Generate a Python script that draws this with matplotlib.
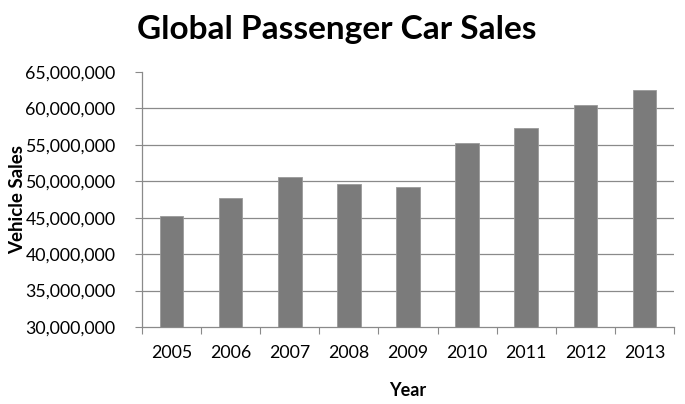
import numpy as np
import matplotlib
matplotlib.use("Agg")
import matplotlib.pyplot as plt
from matplotlib.ticker import FuncFormatter

years = ["2005", "2006", "2007", "2008", "2009", "2010", "2011", "2012", "2013"]
sales = [45.2e6, 47.7e6, 50.6e6, 49.6e6, 49.2e6, 55.2e6, 57.3e6, 60.5e6, 62.5e6]
y_ticks = [30e6, 35e6, 40e6, 45e6, 50e6, 55e6, 60e6, 65e6]

plt.rcParams["font.family"] = ["Lato", "DejaVu Sans"]
grid_gray = "#8a8a8a"

fig = plt.figure(figsize=(6.85, 4.04), dpi=100)
ax = fig.add_axes([0.2073, 0.1906, 0.7767, 0.6312])

x = np.arange(len(years))
ax.bar(x, sales, width=0.4, color="#7b7b7b", edgecolor="#9a9a9a", linewidth=0.6, zorder=3)

ax.set_ylim(30e6, 65e6)
ax.set_xlim(-0.5, len(years) - 0.5)
ax.set_yticks(y_ticks)
ax.yaxis.set_major_formatter(FuncFormatter(lambda v, p: f"{int(v):,}"))
ax.tick_params(axis="y", length=5, width=0.8, color=grid_gray, pad=14, labelsize=12.8)

# category boundaries carry the tick marks, labels sit under the bars
ax.set_xticks(np.arange(len(years) + 1) - 0.5)
ax.set_xticklabels([])
ax.tick_params(axis="x", which="major", length=5, width=0.8, color=grid_gray)
ax.set_xticks(x, years, minor=True)
ax.tick_params(axis="x", which="minor", length=0, pad=13, labelsize=12.8)

for v in y_ticks[1:-1]:
    ax.axhline(v, color=grid_gray, linewidth=0.9, zorder=1)

for s in ["top", "right"]:
    ax.spines[s].set_visible(False)
for s in ["left", "bottom"]:
    ax.spines[s].set_color(grid_gray)
    ax.spines[s].set_linewidth(0.9)

fig.text(17.5 / 685, 1 - 199 / 404, "Vehicle Sales", rotation=90, ha="center", va="center",
         fontsize=13.5, fontweight="bold")
fig.text(408 / 685, 1 - 391 / 404, "Year", ha="center", va="center", fontsize=13, fontweight="bold")
fig.text(337 / 685, 1 - 29 / 404, "Global Passenger Car Sales", ha="center", va="center",
         fontsize=24, fontweight="bold")

fig.savefig("out.png", dpi=100)
